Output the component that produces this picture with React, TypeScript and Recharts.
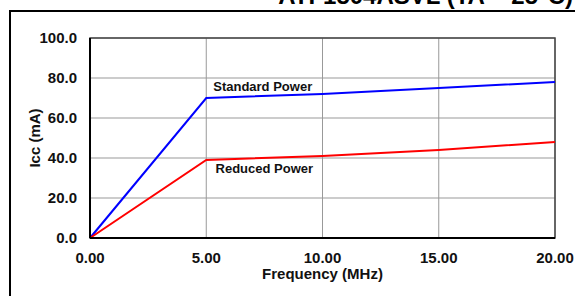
import React from "react";
import {
  LineChart,
  Line,
  XAxis,
  YAxis,
  CartesianGrid,
  ReferenceArea,
  ReferenceDot,
} from "recharts";

const frequency = [0, 5, 10, 15, 20];
const standardPower = [0, 70, 72, 75, 78];
const reducedPower = [0, 39, 41, 44, 48];
const xTicks = [0, 5, 10, 15, 20];
const yTicks = [0, 20, 40, 60, 80, 100];
const title = "ATF1504ASVL (TA = 25°C)";

const font = "'Liberation Sans', Arial, sans-serif";

const data = frequency.map((f, i) => ({
  f,
  standard: standardPower[i],
  reduced: reducedPower[i],
}));

const noteLabel = (text: string) => (props: any) => {
  const { viewBox } = props;
  return (
    <text
      x={viewBox.x}
      y={viewBox.y}
      fontFamily={font}
      fontWeight="bold"
      fontSize={13}
      fill="#111"
    >
      {text}
    </text>
  );
};

export default function App() {
  return (
    <div style={{ position: "absolute", left: 0, top: 0, width: 575, height: 296, background: "#fff" }}>
      <LineChart
        width={575}
        height={296}
        data={data}
        margin={{ top: 38, right: 20, left: 10, bottom: 0 }}
      >
        <CartesianGrid stroke="#999" strokeWidth={1} />
        <ReferenceArea
          x1={0}
          x2={20}
          y1={0}
          y2={100}
          fill="none"
          stroke="#444"
          strokeWidth={1.5}
          ifOverflow="visible"
        />
        <XAxis
          dataKey="f"
          type="number"
          domain={[0, 20]}
          ticks={xTicks}
          tickFormatter={(v: number) => v.toFixed(2)}
          tickLine={false}
          tickSize={0}
          tickMargin={14}
          height={58}
          axisLine={{ stroke: "#000", strokeWidth: 2 }}
          tick={{ fontFamily: font, fontWeight: "bold", fontSize: 15, fill: "#111" }}
          label={{
            content: (props: any) => {
              const vb = props.viewBox;
              return (
                <text
                  x={vb.x + vb.width / 2}
                  y={vb.y + 41}
                  textAnchor="middle"
                  fontFamily={font}
                  fontWeight="bold"
                  fontSize={15}
                  fill="#111"
                >
                  Frequency (MHz)
                </text>
              );
            },
          }}
        />
        <YAxis
          type="number"
          domain={[0, 100]}
          ticks={yTicks}
          tickFormatter={(v: number) => v.toFixed(1)}
          tickLine={false}
          tickSize={0}
          tickMargin={13}
          width={80}
          axisLine={{ stroke: "#000", strokeWidth: 2 }}
          tick={{ fontFamily: font, fontWeight: "bold", fontSize: 15, fill: "#111" }}
          label={{
            content: (props: any) => {
              const vb = props.viewBox;
              const cx = 34;
              const cy = vb.y + vb.height / 2;
              return (
                <text
                  x={cx}
                  y={cy}
                  transform={`rotate(-90 ${cx} ${cy})`}
                  textAnchor="middle"
                  dominantBaseline="central"
                  fontFamily={font}
                  fontWeight="bold"
                  fontSize={15}
                  fill="#111"
                >
                  Icc (mA)
                </text>
              );
            },
          }}
        />
        <Line
          type="linear"
          dataKey="standard"
          stroke="#0000ff"
          strokeWidth={2}
          dot={false}
          isAnimationActive={false}
        />
        <Line
          type="linear"
          dataKey="reduced"
          stroke="#ff0000"
          strokeWidth={2}
          dot={false}
          isAnimationActive={false}
        />
        <ReferenceDot
          x={5.3}
          y={73.5}
          r={0}
          fill="none"
          stroke="none"
          ifOverflow="visible"
          label={{ content: noteLabel("Standard Power") }}
        />
        <ReferenceDot
          x={5.4}
          y={32.5}
          r={0}
          fill="none"
          stroke="none"
          ifOverflow="visible"
          label={{ content: noteLabel("Reduced Power") }}
        />
      </LineChart>
      <svg
        width={575}
        height={296}
        style={{ position: "absolute", left: 0, top: 0, pointerEvents: "none" }}
      >
        <text
          x={573}
          y={4}
          textAnchor="end"
          fontFamily={font}
          fontWeight="bold"
          fontSize={24}
          fill="#000"
        >
          {title}
        </text>
        <line x1={9} y1={11} x2={575} y2={11} stroke="#000" strokeWidth={2} />
        <line x1={10} y1={10} x2={10} y2={296} stroke="#000" strokeWidth={2} />
      </svg>
    </div>
  );
}
